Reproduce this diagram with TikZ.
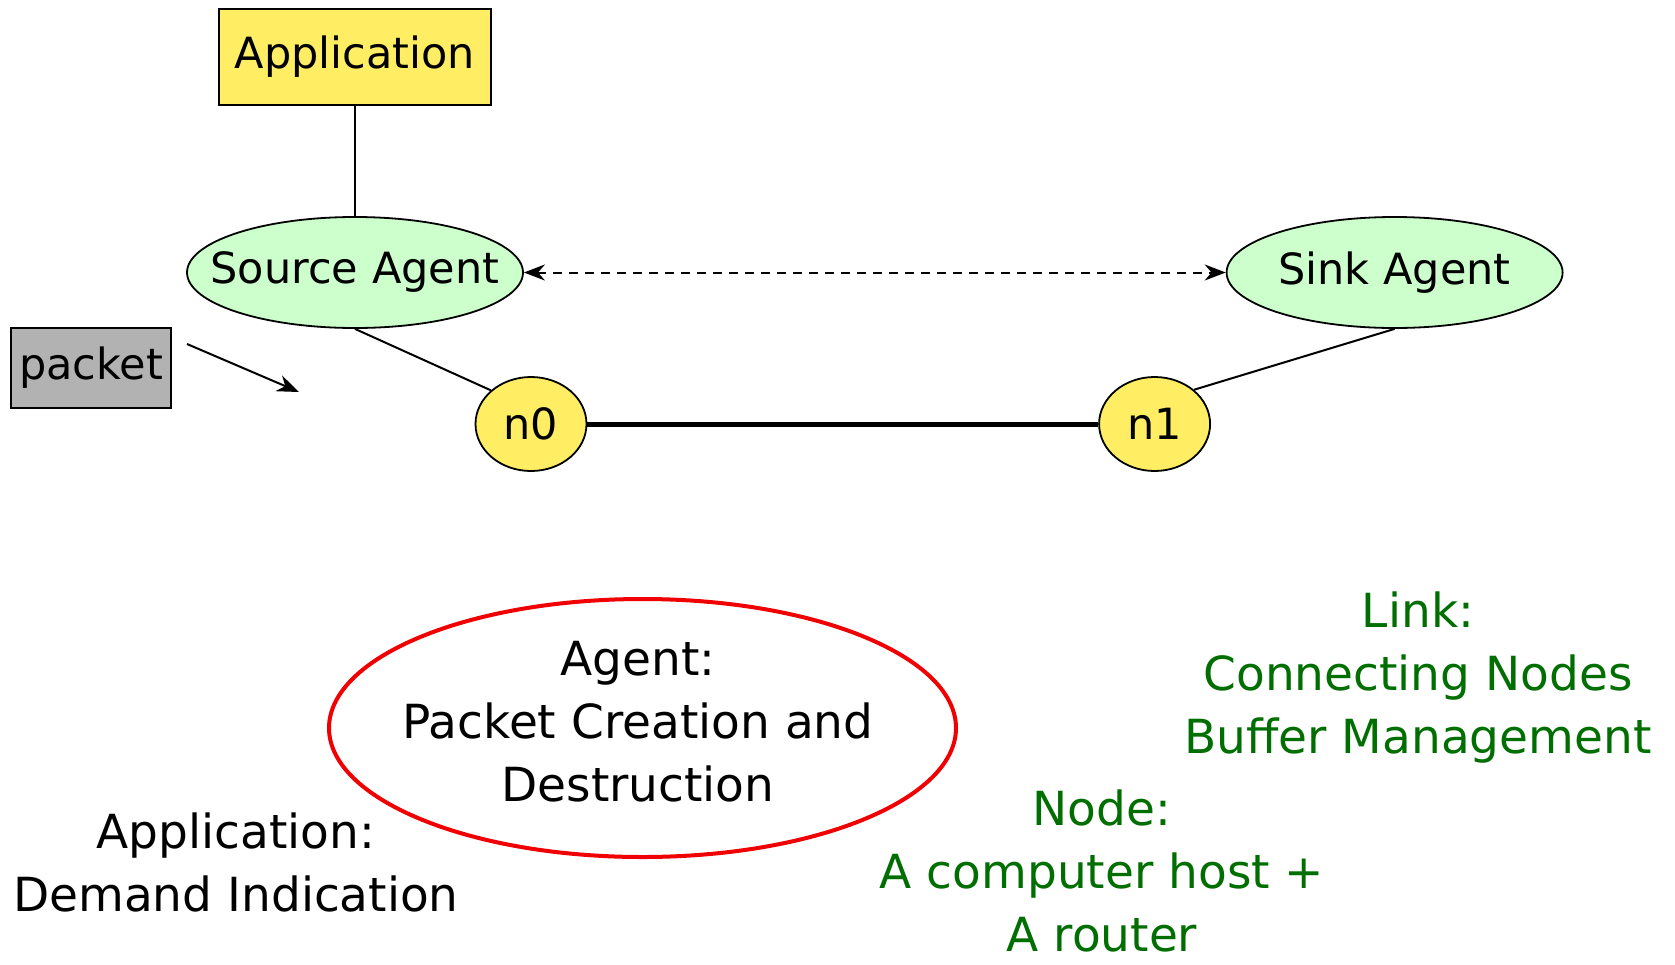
\documentclass[tikz,border=0pt]{standalone}
\usepackage{fontspec}
\setmainfont{DejaVu Sans}
\usetikzlibrary{shapes.geometric,arrows.meta}
\definecolor{appyellow}{RGB}{255,238,100}
\definecolor{agentgreen}{RGB}{204,255,204}
\definecolor{pktgray}{RGB}{178,178,178}
\definecolor{txtgreen}{RGB}{0,110,0}
\definecolor{ringred}{RGB}{240,0,0}
\tikzset{
  every node/.style={font=\fontsize{47}{63}\selectfont, inner sep=0pt},
  topfont/.style={font=\fontsize{43}{50}\selectfont},
  boxnode/.style={draw=black, line width=2pt, rectangle, topfont},
  agentnode/.style={draw=black, line width=1.8pt, ellipse, fill=agentgreen, minimum width=336pt, minimum height=111pt, inner sep=-60pt, topfont},
  netnode/.style={draw=black, line width=1.8pt, ellipse, fill=appyellow, minimum width=111pt, minimum height=94pt, topfont},
  thinline/.style={line width=2pt},
  lbl/.style={align=center, anchor=base},
}
\begin{document}
\begin{tikzpicture}[x=1pt,y=-1pt]
\useasboundingbox (0,0) rectangle (1675,964);
\node[boxnode, fill=appyellow, minimum width=272pt, minimum height=96pt] (app) at (355,56.6) {Application};
\node[agentnode] (src) at (355,272.5) {Source Agent};
\node[agentnode] (sink) at (1394.6,272.5) {Sink Agent};
\node[boxnode, fill=pktgray, minimum width=160pt, minimum height=80pt] (pkt) at (91,368) {packet};
\coordinate (pa) at (187,344);
\coordinate (pb) at (299,392);
\node[netnode] (n0) at (531,424) {n0};
\node[netnode] (n1) at (1154.6,424) {n1};
\draw[thinline] (app.south) -- (src.north);
\draw[thinline] (src.south) -- (n0.140);
\draw[thinline] (sink.south) -- (n1.41);
\draw[line width=5pt] (n0.east) -- (n1.west);
\draw[thinline, dash pattern=on 9pt off 7pt, {Stealth[length=21pt,width=16pt]}-{Stealth[length=21pt,width=16pt]}] (src.east) -- (sink.west);
\draw[thinline, -{Stealth[length=22pt,width=17pt]}] (pa) -- (pb);
\node[draw=ringred, line width=4pt, ellipse, minimum width=627pt, minimum height=258pt] (ring) at (642.5,728) {};
\node[lbl] (agenttxt) at (638,801) {Agent:\\Packet Creation and\\Destruction};
\node[lbl] (apptxt) at (236,911) {Application:\\Demand Indication};
\node[lbl, text=txtgreen] (linktxt) at (1418,753) {Link:\\Connecting Nodes\\Buffer Management};
\node[lbl, text=txtgreen] (nodetxt) at (1102,951) {Node:\\A computer host +\\A router};
\end{tikzpicture}
\end{document}
